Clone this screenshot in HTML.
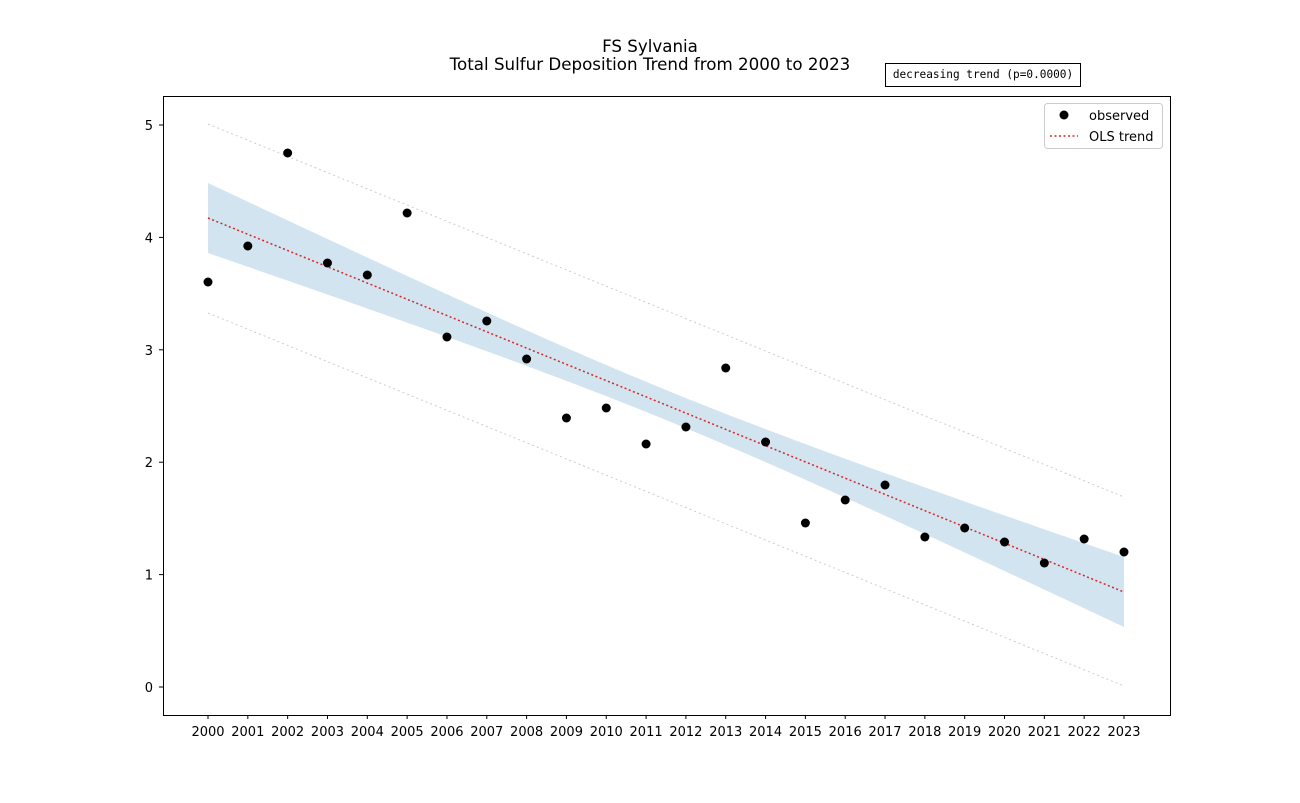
<!DOCTYPE html>
<html><head><meta charset="utf-8"><style>body{margin:0;background:#fff}svg{display:block}</style></head>
<body>
<svg width="1300" height="803" xmlns="http://www.w3.org/2000/svg" font-family="DejaVu Sans, sans-serif">
<rect width="1300" height="803" fill="#fff"/>
<text x="650" y="52" font-size="16.7" text-anchor="middle">FS Sylvania</text>
<text x="650" y="70" font-size="16.7" text-anchor="middle">Total Sulfur Deposition Trend from 2000 to 2023</text>
<rect x="885.5" y="63.5" width="195" height="23" fill="#fff" stroke="#000"/>
<text x="983" y="78" font-size="11.1" font-family="DejaVu Sans Mono, monospace" text-anchor="middle">decreasing trend (p=0.0000)</text>
<path id="ci" fill="#1f77b4" fill-opacity="0.2" stroke="none"/>
<line x1="208" y1="124" x2="1124" y2="497" stroke="#ccc" stroke-dasharray="2,3"/>
<line x1="208" y1="313" x2="1124" y2="686" stroke="#ccc" stroke-dasharray="2,3"/>
<line x1="208" y1="218" x2="1124" y2="592" stroke="#d62728" stroke-width="1.5" stroke-dasharray="2,2.5"/>
<g id="pts" fill="#000"></g>
<rect x="163.5" y="96.5" width="1007" height="619" fill="none" stroke="#000"/>
<g id="ticks" font-size="13"></g>
<rect x="1044.5" y="103.5" width="118" height="45" rx="3" fill="#fff" stroke="#ccc"/>
<circle cx="1064" cy="115" r="4.5" fill="#000"/>
<text x="1089" y="120" font-size="13">observed</text>
<line x1="1050" y1="136" x2="1078" y2="136" stroke="#d62728" stroke-width="1.5" stroke-dasharray="2,2.5"/>
<text x="1089" y="141" font-size="13">OLS trend</text>
<script>
var ns="http://www.w3.org/2000/svg";
function X(i){return 208+i*916/23;}
var ys=[282,246,153,263,275,213,337,321,359,418,408,444,427,368,442,523,500,485,537,528,542,563,539,552];
var g=document.getElementById('pts');
ys.forEach(function(y,i){var c=document.createElementNS(ns,'circle');c.setAttribute('cx',X(i));c.setAttribute('cy',y);c.setAttribute('r',4.5);g.appendChild(c);});
var up=[],lo=[];
for(var k=0;k<=46;k++){var i=k/2;var cy=218+(592-218)*i/23;var d=i-11.5;var hw=Math.sqrt(225+7.56*d*d);up.push(X(i)+','+(cy-hw));lo.unshift(X(i)+','+(cy+hw));}
document.getElementById('ci').setAttribute('d','M'+up.join(' L')+' L'+lo.join(' L')+'Z');
var t=document.getElementById('ticks');
for(var i=0;i<24;i++){var l=document.createElementNS(ns,'line');l.setAttribute('x1',X(i));l.setAttribute('x2',X(i));l.setAttribute('y1',715);l.setAttribute('y2',719);l.setAttribute('stroke','#000');t.appendChild(l);
var s=document.createElementNS(ns,'text');s.setAttribute('x',X(i));s.setAttribute('y',736);s.setAttribute('text-anchor','middle');s.textContent=2000+i;t.appendChild(s);}
for(var v=0;v<=5;v++){var y=687-v*112.4;var l=document.createElementNS(ns,'line');l.setAttribute('x1',159);l.setAttribute('x2',163);l.setAttribute('y1',y);l.setAttribute('y2',y);l.setAttribute('stroke','#000');t.appendChild(l);
var s=document.createElementNS(ns,'text');s.setAttribute('x',153);s.setAttribute('y',y+5);s.setAttribute('text-anchor','end');s.textContent=v;t.appendChild(s);}
</script>
</svg>
</body></html>
